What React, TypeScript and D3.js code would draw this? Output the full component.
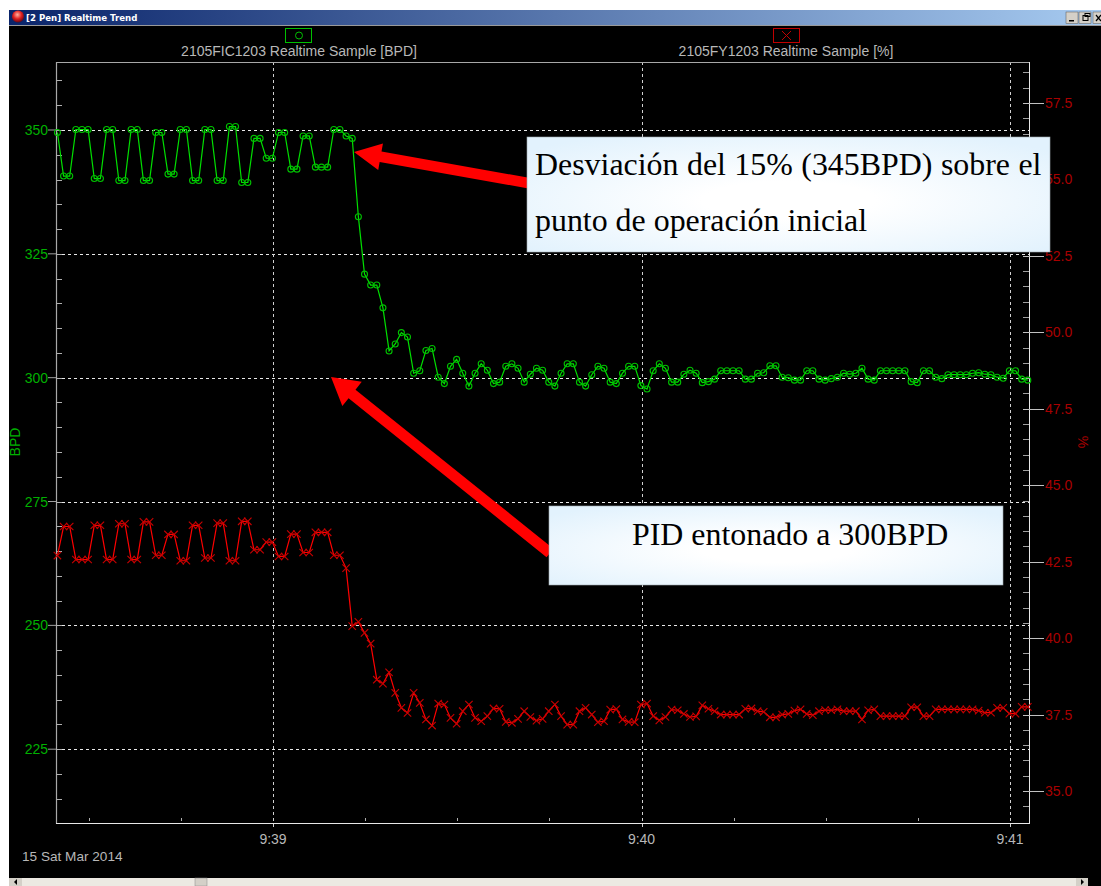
import React from "react";
import * as d3 from "d3";

const bpdValues = [
  349.5, 340.7, 340.7, 350.1, 350.1, 350.1, 340.2, 340.2, 350.1, 350.1, 339.8, 339.8, 350.1, 350.1, 339.8, 339.8,
  349.5, 349.5, 341.1, 341.1, 350.1, 350.1, 339.8, 339.8, 350.1, 350.1, 339.8, 339.8, 350.7, 350.7, 339.4, 339.4,
  348.3, 348.3, 344.3, 344.3, 349.5, 349.5, 342.1, 342.1, 348.8, 348.8, 342.5, 342.5, 342.5, 350.1, 350.1, 348.8,
  348.3, 332.5, 320.9, 318.7, 318.7, 314.1, 305.4, 306.8, 309.1, 308.2, 300.9, 301.4, 305.5, 305.9, 300.1, 298.8,
  302.3, 303.7, 300.9, 298.3, 300.9, 302.8, 301.5, 298.8, 299.1, 302.3, 302.8, 301.9, 299.1, 300.7, 301.9, 301.5,
  299.1, 298.3, 300.9, 302.8, 302.8, 299.1, 298.3, 300.6, 302.3, 301.9, 299.1, 298.8, 300.9, 302.3, 302.3, 298.4,
  297.7, 301.4, 302.8, 301.9, 299.1, 299.1, 300.7, 301.5, 300.9, 299.0, 299.2, 299.7, 301.4, 301.4, 301.4, 301.4,
  299.7, 299.7, 300.9, 301.0, 302.4, 302.4, 300.1, 300.0, 299.5, 299.5, 301.4, 301.4, 299.7, 299.5, 299.8, 300.1,
  300.9, 300.7, 300.9, 301.9, 299.7, 299.5, 301.4, 301.4, 301.4, 301.4, 301.4, 299.2, 299.0, 301.4, 301.4, 300.1,
  299.8, 300.6, 300.6, 300.6, 300.6, 300.9, 301.0, 300.7, 300.6, 300.1, 299.9, 301.4, 301.4, 299.7, 299.5,
];

const pctValues = [
  42.7, 43.65, 43.65, 42.57, 42.57, 42.57, 43.69, 43.69, 42.57, 42.57, 43.74, 43.74, 42.57, 42.57, 43.8, 43.8,
  42.71, 42.71, 43.39, 43.39, 42.53, 42.53, 43.69, 43.69, 42.62, 42.62, 43.76, 43.76, 42.53, 42.53, 43.82, 43.82,
  42.89, 42.89, 43.14, 43.14, 42.67, 42.67, 43.4, 43.4, 42.8, 42.8, 43.46, 43.46, 43.46, 42.71, 42.71, 42.29,
  40.39, 40.53, 40.17, 39.82, 38.64, 38.51, 38.88, 38.21, 37.72, 37.55, 38.21, 37.88, 37.34, 37.14, 37.86, 37.83,
  37.39, 37.2, 37.61, 37.83, 37.39, 37.28, 37.45, 37.7, 37.69, 37.26, 37.23, 37.36, 37.61, 37.42, 37.3, 37.36,
  37.61, 37.83, 37.45, 37.17, 37.17, 37.61, 37.72, 37.5, 37.25, 37.28, 37.66, 37.68, 37.34, 37.26, 37.25, 37.83,
  37.86, 37.45, 37.31, 37.42, 37.66, 37.64, 37.52, 37.42, 37.44, 37.8, 37.69, 37.61, 37.5, 37.5, 37.5, 37.5,
  37.69, 37.7, 37.61, 37.59, 37.41, 37.41, 37.5, 37.52, 37.63, 37.67, 37.52, 37.48, 37.61, 37.65, 37.64, 37.67,
  37.61, 37.61, 37.61, 37.34, 37.64, 37.67, 37.45, 37.45, 37.45, 37.45, 37.45, 37.74, 37.74, 37.45, 37.45, 37.67,
  37.67, 37.67, 37.67, 37.67, 37.67, 37.67, 37.63, 37.56, 37.56, 37.72, 37.72, 37.53, 37.53, 37.75, 37.75,
];

const firstSampleSecond = -35.1;
const bpdMajorTicks = [350, 325, 300, 275, 250, 225];
const pctMajorTicks = [57.5, 55, 52.5, 50, 47.5, 45, 42.5, 40, 37.5, 35];
const timeTicks = [
  { second: 0, label: "9:39" },
  { second: 60, label: "9:40" },
  { second: 120, label: "9:41" },
];
const seriesNames = ["2105FIC1203 Realtime Sample [BPD]", "2105FY1203 Realtime Sample [%]"];
const windowTitle = "[2 Pen] Realtime Trend";
const dateLabel = "15 Sat Mar 2014";
const note1 = ["Desviación del 15% (345BPD) sobre el", "punto de operación inicial"];
const note2 = "PID entonado a 300BPD";

const W = 1101;
const H = 886;
const plot = { left: 56, right: 1029, top: 62, bottom: 823 };
const SANS = "'Liberation Sans', Arial, sans-serif";
const SERIF = "'Liberation Serif', 'Times New Roman', serif";

const x = d3.scaleLinear().domain([0, 120]).range([273, 1010]);
const yBpd = d3.scaleLinear().domain([350, 225]).range([130, 749.2]);
const yPct = d3.scaleLinear().domain([57.5, 35]).range([103, 791]);

const lineBpd = d3.line<number>().x((_, i) => x(firstSampleSecond + i)).y((d) => yBpd(d));
const linePct = d3.line<number>().x((_, i) => x(firstSampleSecond + i)).y((d) => yPct(d));

const bpdMinor = d3.range(210, 380, 5).filter((v) => yBpd(v) > plot.top + 4 && yBpd(v) < plot.bottom - 4);
const pctMinor = d3.range(34, 59.01, 0.5).filter((v) => yPct(v) > plot.top + 4 && yPct(v) < plot.bottom - 4);
const timeMinor = d3.range(-30, 121, 15).filter((s) => s % 60 !== 0);

function arrowPath(tx: number, ty: number, bx: number, by: number, shaft: number, headLen: number, headW: number) {
  const dx = bx - tx;
  const dy = by - ty;
  const len = Math.hypot(dx, dy);
  const ux = dx / len;
  const uy = dy / len;
  const nx = -uy;
  const ny = ux;
  const hx = tx + ux * headLen;
  const hy = ty + uy * headLen;
  const p = d3.path();
  p.moveTo(tx, ty);
  p.lineTo(hx + (nx * headW) / 2, hy + (ny * headW) / 2);
  p.lineTo(hx + (nx * shaft) / 2, hy + (ny * shaft) / 2);
  p.lineTo(bx + (nx * shaft) / 2, by + (ny * shaft) / 2);
  p.lineTo(bx - (nx * shaft) / 2, by - (ny * shaft) / 2);
  p.lineTo(hx - (nx * shaft) / 2, hy - (ny * shaft) / 2);
  p.lineTo(hx - (nx * headW) / 2, hy - (ny * headW) / 2);
  p.closePath();
  return p.toString();
}

export default function App() {
  return (
    <svg
      width={W}
      height={H}
      viewBox={`0 0 ${W} ${H}`}
      style={{ position: "absolute", left: 0, top: 0, display: "block", background: "#fff" }}
    >
      <defs>
        <linearGradient id="titleBar" x1="0" x2="1" y1="0" y2="0">
          <stop offset="0" stopColor="#0a246a" />
          <stop offset="1" stopColor="#a6caf0" />
        </linearGradient>
        <radialGradient id="noteFill" cx="0.5" cy="0.55" r="0.66">
          <stop offset="0.25" stopColor="#ffffff" />
          <stop offset="1" stopColor="#e2f2fd" />
        </radialGradient>
        <radialGradient id="ball" cx="0.45" cy="0.35" r="0.7">
          <stop offset="0" stopColor="#ffb0a0" />
          <stop offset="0.5" stopColor="#e02020" />
          <stop offset="1" stopColor="#500010" />
        </radialGradient>
      </defs>

      {/* window */}
      <rect x={9} y={26} width={W - 9} height={860} fill="#000" />
      <rect x={9} y={10} width={W - 9} height={15} fill="url(#titleBar)" />
      <rect x={9} y={25} width={W - 9} height={1} fill="#9a9a9a" />
      <circle cx={18} cy={16.5} r={6} fill="url(#ball)" />
      <text x={26} y={21} fontFamily="'DejaVu Sans', sans-serif" fontWeight="bold" fontSize={8.6} fill="#fff">
        {windowTitle}
      </text>
      {[1066, 1079, 1093].map((bx) => (
        <rect key={bx} x={bx} y={12} width={12} height={11.5} fill="#d4d0c8" stroke="#555" strokeWidth={0.5} />
      ))}
      <rect x={1069} y={20} width={5} height={1.5} fill="#000" />
      <rect x={1083} y={15.5} width={5} height={5} fill="none" stroke="#000" />
      <rect x={1085} y={13.5} width={5} height={3} fill="none" stroke="#000" />
      <path d="M1096 15 L1101 21 M1101 15 L1096 21" stroke="#000" strokeWidth={1.2} />

      {/* scrollbar */}
      <rect x={9} y={878} width={1079} height={8} fill="#ece9e2" />
      <rect x={9} y={878} width={13} height={8} fill="#d4d0c8" />
      <path d="M14 882 L17 879 L17 885 Z" fill="#000" />
      <rect x={195} y={878} width={12} height={8} fill="#d4d0c8" stroke="#888" strokeWidth={0.5} />
      <rect x={1076} y={878} width={12} height={8} fill="#d4d0c8" />
      <path d="M1084 882 L1081 879 L1081 885 Z" fill="#000" />

      {/* legend */}
      <rect x={285.5} y={28.5} width={26} height={14} fill="none" stroke="#00c000" />
      <circle cx={299} cy={35.5} r={3.5} fill="none" stroke="#00c000" />
      <rect x={773.5} y={28.5} width={26} height={14} fill="none" stroke="#c00000" />
      <path d="M782 31 L791 40 M791 31 L782 40" stroke="#c00000" />
      <text x={299} y={56} textAnchor="middle" fontFamily={SANS} fontSize={14} fill="#b8b8b8">
        {seriesNames[0]}
      </text>
      <text x={786} y={56} textAnchor="middle" fontFamily={SANS} fontSize={14} fill="#b8b8b8">
        {seriesNames[1]}
      </text>

      {/* grid */}
      {bpdMajorTicks.map((v) => (
        <line
          key={v}
          x1={plot.left}
          x2={plot.right}
          y1={Math.round(yBpd(v)) + 0.5}
          y2={Math.round(yBpd(v)) + 0.5}
          stroke="#e8e8e8"
          strokeDasharray="3 3"
        />
      ))}
      {timeTicks.map((t) => (
        <line
          key={t.second}
          x1={Math.round(x(t.second)) + 0.5}
          x2={Math.round(x(t.second)) + 0.5}
          y1={plot.top}
          y2={plot.bottom + 7}
          stroke="#d0d0d0"
          strokeDasharray="3 3"
        />
      ))}

      {/* axes */}
      <path
        d={`M${plot.left + 0.5} ${plot.bottom + 0.5} V${plot.top + 0.5} H${plot.right + 0.5}`}
        fill="none"
        stroke="#a8a8a8"
        strokeWidth={1.2}
      />
      <line x1={plot.left} x2={plot.right + 1} y1={plot.bottom + 0.5} y2={plot.bottom + 0.5} stroke="#e8e8e8" />
      <line x1={plot.right + 0.5} x2={plot.right + 0.5} y1={plot.top} y2={plot.bottom} stroke="#e8e8e8" />

      {bpdMinor.map((v) => (
        <line
          key={v}
          x1={plot.left}
          x2={plot.left + 6}
          y1={Math.round(yBpd(v)) + 0.5}
          y2={Math.round(yBpd(v)) + 0.5}
          stroke="#b0b0b0"
        />
      ))}
      {pctMinor.map((v) => (
        <line
          key={v}
          x1={plot.right - 6}
          x2={plot.right}
          y1={Math.round(yPct(v)) + 0.5}
          y2={Math.round(yPct(v)) + 0.5}
          stroke="#a0a0a0"
        />
      ))}
      {timeMinor.map((s) => (
        <line
          key={s}
          x1={Math.round(x(s)) + 0.5}
          x2={Math.round(x(s)) + 0.5}
          y1={plot.bottom - 5}
          y2={plot.bottom - 2}
          stroke="#b0b0b0"
        />
      ))}

      {/* tick labels */}
      {bpdMajorTicks.map((v) => (
        <g key={v}>
          <line x1={plot.left - 8} x2={plot.left} y1={yBpd(v)} y2={yBpd(v)} stroke="#a0a0a0" />
          <text x={48} y={yBpd(v) + 5} textAnchor="end" fontFamily={SANS} fontSize={14} fill="#00b000">
            {v}
          </text>
        </g>
      ))}
      {pctMajorTicks.map((v) => (
        <g key={v}>
          <line
            x1={plot.right - 6}
            x2={plot.right + 15}
            y1={Math.round(yPct(v)) + 0.5}
            y2={Math.round(yPct(v)) + 0.5}
            stroke="#c0c0c0"
          />
          <text x={1045} y={yPct(v) + 5} fontFamily={SANS} fontSize={14} fill="#a80000">
            {v.toFixed(1)}
          </text>
        </g>
      ))}
      <text
        transform="translate(20 442) rotate(-90)"
        textAnchor="middle"
        fontFamily={SANS}
        fontSize={14}
        fill="#00b000"
      >
        BPD
      </text>
      <text
        transform="translate(1078 442) rotate(90)"
        textAnchor="middle"
        fontFamily={SANS}
        fontSize={14}
        fill="#a80000"
      >
        %
      </text>
      {timeTicks.map((t) => (
        <text
          key={t.second}
          x={x(t.second)}
          y={844}
          textAnchor="middle"
          fontFamily={SANS}
          fontSize={14}
          fill="#b8b8b8"
        >
          {t.label}
        </text>
      ))}
      <text x={22} y={861} fontFamily={SANS} fontSize={13.6} fill="#b8b8b8">
        {dateLabel}
      </text>

      {/* series */}
      <path d={lineBpd(bpdValues) ?? ""} fill="none" stroke="#00e000" strokeWidth={1.2} />
      {bpdValues.map((v, i) => (
        <circle
          key={i}
          cx={x(firstSampleSecond + i)}
          cy={yBpd(v)}
          r={3}
          fill="none"
          stroke="#00c000"
          strokeWidth={1.1}
        />
      ))}
      <path d={linePct(pctValues) ?? ""} fill="none" stroke="#ff0000" strokeWidth={1.2} />
      {pctValues.map((v, i) => {
        const cx = x(firstSampleSecond + i);
        const cy = yPct(v);
        return (
          <path
            key={i}
            d={`M${cx - 3.7} ${cy - 3.7} L${cx + 3.7} ${cy + 3.7} M${cx + 3.7} ${cy - 3.7} L${cx - 3.7} ${cy + 3.7}`}
            stroke="#c80000"
            strokeWidth={1.1}
            fill="none"
          />
        );
      })}

      {/* arrows */}
      <path d={arrowPath(354, 152, 528, 183, 10.5, 27, 27)} fill="#ff0000" />
      <path d={arrowPath(331, 377, 550, 553, 11, 27, 31)} fill="#ff0000" />

      {/* notes */}
      <rect x={527} y={137} width={523} height={115} fill="url(#noteFill)" stroke="#9fa8ae" strokeWidth={0.6} />
      <text x={535} y={175} fontFamily={SERIF} fontSize={31.9} fill="#000" wordSpacing={0.5}>
        {note1[0]}
      </text>
      <text x={535} y={231} fontFamily={SERIF} fontSize={31.9} fill="#000">
        {note1[1]}
      </text>
      <rect x={549} y={506} width={454} height={79} fill="url(#noteFill)" stroke="#9fa8ae" strokeWidth={0.6} />
      <text x={632} y={545} fontFamily={SERIF} fontSize={31.9} fill="#000">
        {note2}
      </text>
    </svg>
  );
}
